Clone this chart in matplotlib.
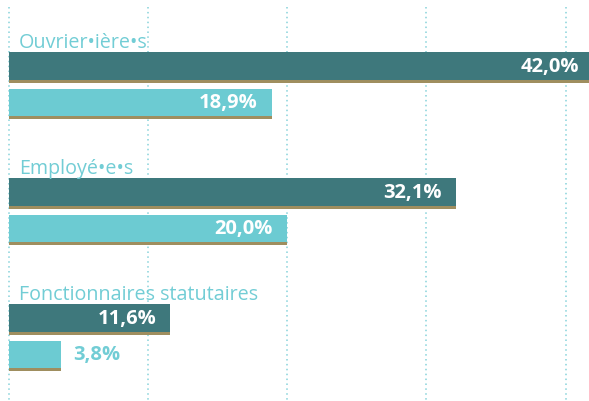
import matplotlib
matplotlib.use("Agg")
import matplotlib.pyplot as plt

# data
categories = ["Ouvrier•ière•s", "Employé•e•s", "Fonctionnaires statutaires"]
series_dark = [42.0, 32.1, 11.6]
series_light = [18.9, 20.0, 3.8]
grid_ticks = [0, 10, 20, 30, 40]

DARK = "#3e787c"
LIGHT = "#6ccbd2"
BROWN = "#9f8e5f"
TEXT = "#72cdd5"

plt.rcParams["font.family"] = ["Open Sans", "DejaVu Sans"]

W, H = 589, 402
fig = plt.figure(figsize=(W / 100, H / 100), dpi=100)
ax = fig.add_axes([0, 0, 1, 1])

# x in percent, y in pixels (top = 0)
px_per_unit = 13.93
x0 = 8.5
ax.set_xlim(-x0 / px_per_unit, (W - x0) / px_per_unit)
ax.set_ylim(H, 0)
ax.axis("off")

for t in grid_ticks:
    ax.plot([t, t], [8, H], color="#86d2da", lw=1.1, ls=(0, (1, 2.2)), zorder=0)

group_step = 126
first_top = 53
bar_h = 30.5
gap = 6
line_h = 2.6

for i, (cat, vd, vl) in enumerate(zip(categories, series_dark, series_light)):
    top_d = first_top + i * group_step
    top_l = top_d + bar_h + gap
    for top, v, col in [(top_d, vd, DARK), (top_l, vl, LIGHT)]:
        ax.barh(top, v, height=bar_h, left=0, align="edge", color=col, zorder=2)
        ax.barh(top + bar_h - line_h, v, height=line_h, left=0, align="edge",
                color=BROWN, zorder=3)
        label = f"{v:.1f}%".replace(".", ",")
        cy = top + bar_h / 2 - 1.5
        if v > 6:
            ax.text(v - 14 / px_per_unit, cy, label, ha="right", va="center",
                    color="white", fontsize=14.5, fontweight="bold", zorder=4)
        else:
            ax.text(v + 12 / px_per_unit, cy, label, ha="left", va="center",
                    color=TEXT, fontsize=14.5, fontweight="bold", zorder=4)
    ax.text(19 / px_per_unit - x0 / px_per_unit, top_d - 5, cat, ha="left",
            va="baseline", color=TEXT, fontsize=14.2, zorder=4)

fig.savefig("out.png", dpi=100)
